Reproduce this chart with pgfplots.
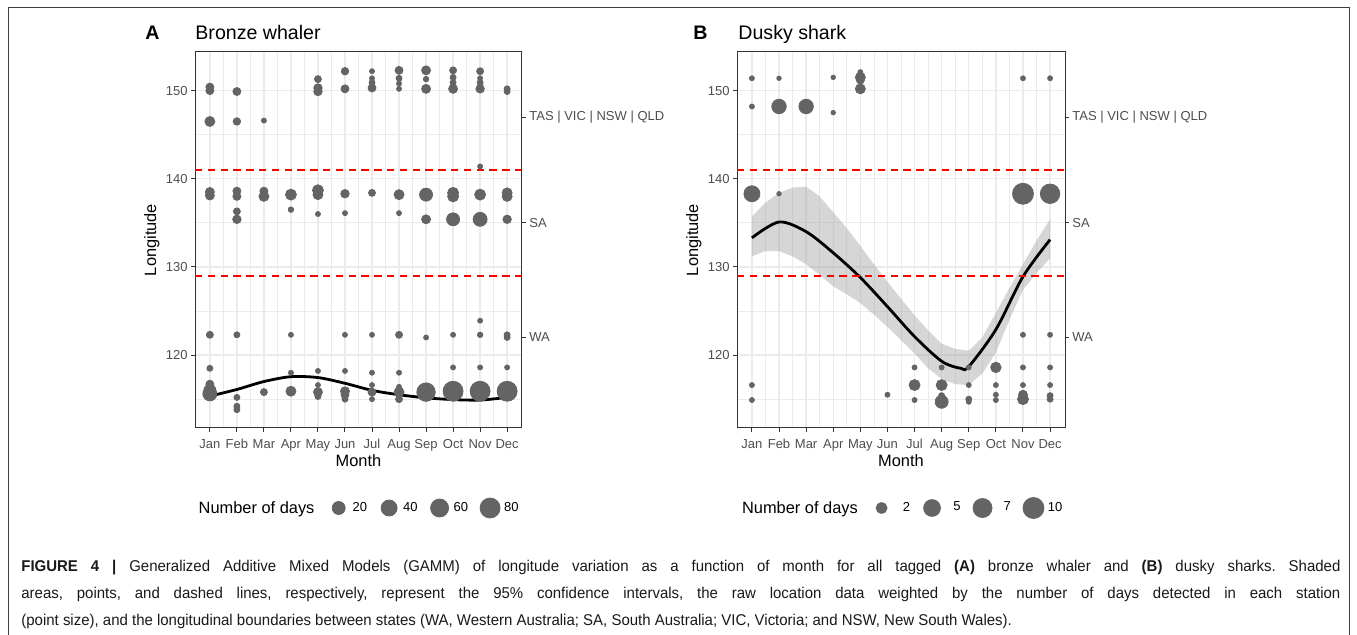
\documentclass[border=0pt]{standalone}
\usepackage{fontspec}
\setmainfont{Liberation Sans}
\newfontfamily\capfont[FakeStretch=0.96]{Liberation Sans}
\usepackage{pgfplots}
\usepackage{pgfplotstable}
\pgfplotsset{compat=1.18}

\definecolor{ptc}{HTML}{646464}
\definecolor{gridc}{HTML}{EBEBEB}
\definecolor{bordc}{HTML}{333333}
\definecolor{txtc}{HTML}{4D4D4D}

% month, longitude, point diameter (px)
\pgfplotstableread{
x y d
1 150.4 8
1 150.0 8
1 146.5 10
1 138.5 9
1 138.1 9
1 122.3 7
1 118.5 6
1 116.7 8
1 116.0 12
1 115.6 14
2 149.9 8
2 146.5 7.5
2 138.6 8
2 138.0 8
2 136.3 7
2 135.4 8.5
2 122.3 6
2 115.2 6
2 114.2 6
2 113.8 6
3 146.6 5
3 138.6 8
3 138.0 10
3 115.8 7
4 138.2 11
4 136.5 5.5
4 122.3 5
4 118.0 5
4 115.9 10
5 151.3 7
5 150.3 8.5
5 149.9 8.5
5 138.7 11
5 138.2 10
5 136.0 5
5 118.2 5
5 116.6 5
5 115.8 9
5 115.3 6
6 152.2 7.5
6 150.2 8
6 138.3 8.5
6 136.1 5
6 122.3 5
6 118.2 5
6 115.9 9
6 115.5 8
6 115.0 6
7 152.2 5
7 151.4 5
7 150.9 6
7 150.3 8
7 138.4 7
7 122.3 5
7 118.0 5
7 116.6 5
7 115.8 8
7 115.0 5
8 152.3 8
8 151.4 6
8 150.8 5
8 150.2 5
8 138.2 10
8 136.1 5
8 122.3 7
8 118.0 5
8 116.4 5
8 115.8 10
8 115.0 7
9 152.3 9
9 151.3 5.5
9 150.2 9
9 138.2 13
9 135.4 9
9 122.0 5
9 115.8 18.5
10 152.3 7
10 151.5 6
10 150.9 6
10 150.2 9
10 138.4 11
10 138.0 11
10 135.4 13
10 122.3 5
10 118.6 5
10 115.9 20
11 152.2 7
11 151.4 5
11 150.9 6
11 150.2 8.5
11 141.4 5
11 138.2 11
11 135.4 14
11 123.9 5
11 122.3 5.5
11 118.6 5
11 115.9 20
12 150.2 6
12 149.9 6
12 138.4 10
12 138.0 10
12 135.4 8.5
12 122.3 6
12 122.0 6
12 118.6 5
12 115.9 20
}\bronze

\pgfplotstableread{
x y d
1 151.4 5
1 148.2 5
1 138.3 16
1 116.6 5
1 114.9 5
2 151.4 4.5
2 148.2 14.5
2 138.3 4.5
3 148.2 14.5
4 151.5 4.5
4 147.5 4.5
5 152.1 5
5 151.5 10
5 151.2 8
5 150.2 10
6 115.5 5
7 118.6 5
7 116.6 11
7 114.9 5
8 118.6 5
8 116.6 11
8 115.4 6
8 114.7 13
9 118.6 5
9 116.6 5
9 115.0 6
9 114.7 5
10 118.6 10.5
10 116.6 5
10 115.5 5
10 114.9 5
11 151.4 5
11 138.3 21
11 122.3 5
11 118.6 5
11 116.6 5
11 115.5 9
11 115.0 11
12 151.4 5
12 138.3 19.5
12 122.3 5
12 118.6 5
12 116.6 5
12 115.4 6
12 115.0 6
}\dusky

% state boundaries (longitude)
\pgfplotstableread{
x y
0.45 141
12.55 141
6.5 nan
0.45 129
12.55 129
}\bounds

\pgfplotsset{
  panel/.style={
    scale only axis, anchor=north west, height=188pt,
    xmin=0.45, xmax=12.55, ymin=111.73, ymax=154.38,
    xtick={1,...,12},
    xticklabels={Jan,Feb,Mar,Apr,May,Jun,Jul,Aug,Sep,Oct,Nov,Dec},
    ytick={120,130,140,150},
    minor xtick={1.5,2.5,...,11.5}, minor ytick={115,125,135,145},
    grid=both,
    major grid style={gridc, line width=0.7pt},
    minor grid style={gridc, line width=0.35pt},
    axis line style={bordc, line width=0.5pt},
    tick align=outside, xtick pos=bottom, ytick pos=left,
    major tick length=2pt, minor tick length=0pt,
    tick style={bordc, line width=0.5pt},
    tick label style={font=\fontsize{6.5}{7.8}\selectfont, text=txtc},
    yticklabel style={inner sep=1.5pt},
    /pgf/number format/assume math mode=true,
    xlabel={Month}, ylabel={Longitude},
    label style={font=\fontsize{8.2}{9.8}\selectfont},
    xlabel style={at={(axis description cs:0.5,-0.0878)}, anchor=center},
    ylabel style={at={(axis description cs:-0.1315,0.5)}, anchor=center},
    unbounded coords=jump,
    legend columns=-1,
    legend style={draw=none, fill=none, inner sep=0pt, anchor=west,
      font=\fontsize{6.5}{7.8}\selectfont, nodes={inner sep=2pt},
      /tikz/every even column/.append style={column sep=4pt}},
  },
  states/.style={
    scale only axis, anchor=north west, height=188pt,
    xmin=0.45, xmax=12.55, ymin=111.73, ymax=154.38,
    axis x line=none, axis y line*=right,
    ytick={122,135,147}, yticklabels={WA,SA,TAS | VIC | NSW | QLD},
    tick align=outside, major tick length=2pt,
    tick style={bordc, line width=0.5pt},
    axis line style={bordc, line width=0.5pt},
    yticklabel style={font=\fontsize{6.5}{7.8}\selectfont, text=txtc, inner sep=1.5pt},
  },
  days/.style={
    only marks, mark=*, forget plot,
    scatter, scatter/use mapped color={draw=ptc, fill=ptc},
    visualization depends on={\thisrow{d} \as \dd},
    scatter/@pre marker code/.append style={/tikz/mark size=0.25*\dd},
  },
  key/.style={only marks, mark=*, mark size=#1, color=ptc,
    mark options={draw=ptc, fill=ptc},
    legend image code/.code={\path[draw=none] (-5pt,0pt) -- (5pt,0pt);
      \draw[##1] plot coordinates {(0pt,0pt)};}},
  gam/.style={black, line width=1.4pt, smooth, forget plot},
  bnd/.style={color=red, line width=0.95pt, dash pattern=on 3.7pt off 2.7pt, forget plot},
}

\begin{document}
\frenchspacing
\begin{tikzpicture}
\useasboundingbox (0,0) rectangle (678.5pt,-317.5pt);
\draw[black!75, line width=0.6pt] (4.1pt,-317.5pt) -- (4.1pt,-3.7pt) -- (674.6pt,-3.7pt) -- (674.6pt,-317.5pt);

% ---------- A ----------
\begin{axis}[panel, at={(97.5pt,-26pt)}, width=163.5pt,
  legend style={at={(axis description cs:0.4076,-0.2128)}}]
\addlegendimage{key=3.25pt}\addlegendentry{20}
\addlegendimage{key=4pt}\addlegendentry{40}
\addlegendimage{key=4.5pt}\addlegendentry{60}
\addlegendimage{key=5pt}\addlegendentry{80}
\addplot[gam] coordinates {
  (1,115.35) (2,116.1) (3,117.0) (4,117.55) (5,117.45) (6,116.8)
  (7,116.0) (8,115.5) (9,115.15) (10,114.95) (11,114.9) (12,115.2)};
\addplot[bnd] table[x=x, y=y] {\bounds};
\addplot[days] table[x=x, y=y] {\bronze};
\end{axis}
\begin{axis}[states, at={(97.5pt,-26pt)}, width=163.5pt]
\addplot[draw=none] coordinates {(1,120)};
\end{axis}

% ---------- B ----------
\begin{axis}[panel, at={(368.5pt,-26pt)}, width=164pt,
  legend style={at={(axis description cs:0.4091,-0.2128)}}]
\addlegendimage{key=2.75pt}\addlegendentry{\hphantom{1}2}
\addlegendimage{key=4.2pt}\addlegendentry{\hphantom{1}5}
\addlegendimage{key=4.75pt}\addlegendentry{\hphantom{1}7}
\addlegendimage{key=5.25pt}\addlegendentry{10}
% 95% confidence band: upper edge Jan->Dec, lower edge Dec->Jan
\addplot[draw=none, fill=black!40, fill opacity=0.4, forget plot] coordinates {
  (1,135.7) (1.5,137.3) (2,138.4) (2.5,139.0) (3,139.1) (3.5,138.0)
  (4,136.2) (4.5,134.4) (5,132.4) (5.5,130.3) (6,128.3) (6.5,126.4)
  (7,124.5) (7.5,122.8) (8,121.3) (8.5,120.7) (9,120.5) (9.5,122.0)
  (10,124.8) (10.5,127.6) (11,130.3) (11.5,133.0) (12,135.4)
  (12,131.0) (11.5,129.3) (11,127.4) (10.5,124.0) (10,120.3) (9.5,117.9)
  (9,116.6) (8.5,116.7) (8,117.3) (7.5,118.5) (7,120.2) (6.5,121.7)
  (6,123.2) (5.5,124.6) (5,125.9) (4.5,126.9) (4,127.8) (3.5,129.1)
  (3,130.3) (2.5,131.2) (2,131.8) (1.5,131.8) (1,131.2)} -- cycle;
\addplot[gam] coordinates {
  (1,133.3) (2,135.1) (3,134.0) (4,131.6) (5,128.8) (6,125.5)
  (7,122.1) (8,119.3) (8.7,118.5) (9,118.7) (10,122.9) (11,128.9) (12,133.1)};
\addplot[bnd] table[x=x, y=y] {\bounds};
\addplot[days] table[x=x, y=y] {\dusky};
\end{axis}
\begin{axis}[states, at={(368.5pt,-26pt)}, width=164pt]
\addplot[draw=none] coordinates {(1,120)};
\end{axis}

% titles and legend titles
\node[anchor=base west, inner sep=0pt, font=\bfseries\fontsize{9.8}{11}\selectfont] at (72.5pt,-19.7pt) {A};
\node[anchor=base west, inner sep=0pt, font=\fontsize{9.8}{11}\selectfont] at (97.5pt,-19.7pt) {Bronze whaler};
\node[anchor=base west, inner sep=0pt, font=\bfseries\fontsize{9.8}{11}\selectfont] at (346.5pt,-19.7pt) {B};
\node[anchor=base west, inner sep=0pt, font=\fontsize{9.8}{11}\selectfont] at (369pt,-19.7pt) {Dusky shark};
\node[anchor=base west, inner sep=0pt, font=\fontsize{8.2}{9.8}\selectfont] at (99.15pt,-257pt) {Number of days};
\node[anchor=base west, inner sep=0pt, font=\fontsize{8.2}{9.8}\selectfont] at (370.85pt,-257pt) {Number of days};

% caption
\begin{scope}[every node/.style={anchor=base west, inner sep=0pt, text=black!90, font=\capfont\fontsize{7.8}{9}\selectfont}]
\node at (10.5pt,-285.75pt) {\makebox[659.5pt][s]{\textbf{FIGURE 4 |} Generalized Additive Mixed Models (GAMM) of longitude variation as a function of month for all tagged \textbf{(A)} bronze whaler and \textbf{(B)} dusky sharks. Shaded}};
\node at (10.5pt,-299.5pt) {\makebox[659.5pt][s]{areas, points, and dashed lines, respectively, represent the 95\% confidence intervals, the raw location data weighted by the number of days detected in each station}};
\node at (10.5pt,-313pt) {(point size), and the longitudinal boundaries between states (WA, Western Australia; SA, South Australia; VIC, Victoria; and NSW, New South Wales).};
\end{scope}
\end{tikzpicture}
\end{document}
